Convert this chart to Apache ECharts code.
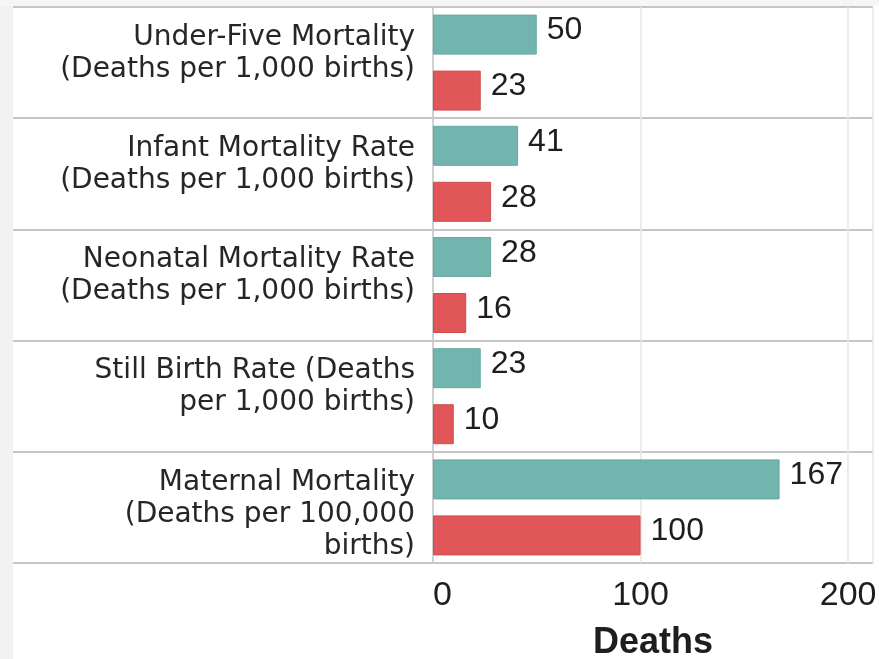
<!DOCTYPE html>
<html>
<head>
<meta charset="utf-8">
<script src="https://cdn.jsdelivr.net/npm/echarts@6/dist/echarts.min.js"></script>
<style>
  html, body { margin: 0; padding: 0; background: #ffffff; }
  #chart { width: 879px; height: 659px; }
</style>
</head>
<body>
<div id="chart"></div>
<script>
// ---- data ----
const categories = [
  'Under-Five Mortality\n(Deaths per 1,000 births)',
  'Infant Mortality Rate\n(Deaths per 1,000 births)',
  'Neonatal Mortality Rate\n(Deaths per 1,000 births)',
  'Still Birth Rate (Deaths\nper 1,000 births)',
  'Maternal Mortality\n(Deaths per 100,000\nbirths)'
];
const tealValues = [50, 41, 28, 23, 167];
const redValues = [23, 28, 16, 10, 100];
const xTickLabels = [0, 100, 200];
const axisTitle = 'Deaths';

// ---- chart ----
const chart = echarts.init(document.getElementById('chart'), null, { renderer: 'canvas' });

const valueLabel = {
  show: true,
  position: 'right',
  distance: 10,
  offset: [0, -4],
  fontFamily: 'Liberation Sans, Arial, sans-serif',
  fontSize: 32,
  color: '#1e1e1e'
};

const option = {
  backgroundColor: '#ffffff',
  animation: false,
  graphic: [
    { type: 'rect', left: 0, top: 0, shape: { width: 13, height: 659 }, style: { fill: '#f2f2f2' }, silent: true, z: -10 },
    { type: 'rect', left: 0, top: 0, shape: { width: 879, height: 6 }, style: { fill: '#f6f6f6' }, silent: true, z: -10 }
  ],
  grid: { left: 433, right: 6, top: 7, bottom: 96, containLabel: false, outerBoundsMode: 'none' },
  xAxis: {
    type: 'value',
    min: 0,
    max: 212,
    interval: 100,
    axisLine: { show: false },
    axisTick: { show: false },
    splitLine: { show: true, lineStyle: { color: '#e6e6e6', width: 1.5 } },
    axisLabel: {
      margin: 16,
      fontFamily: 'Liberation Sans, Arial, sans-serif',
      fontSize: 34,
      color: '#1e1e1e',
      showMaxLabel: false,
      alignMinLabel: 'left',
      formatter: function (v) { return xTickLabels.indexOf(v) >= 0 ? String(v) : ''; }
    },
    name: axisTitle,
    nameLocation: 'middle',
    nameGap: 62,
    nameTextStyle: {
      fontFamily: 'Liberation Sans, Arial, sans-serif',
      fontSize: 36,
      fontWeight: 'bold',
      color: '#1e1e1e'
    }
  },
  yAxis: {
    type: 'category',
    data: categories,
    inverse: true,
    axisLine: { show: true, lineStyle: { color: '#c8c8c8', width: 1.5 } },
    axisTick: { show: true, length: 420, lineStyle: { color: '#c6c6c6', width: 2 } },
    splitLine: { show: true, lineStyle: { color: '#c6c6c6', width: 2 } },
    axisLabel: {
      interval: 0,
      showMinLabel: true,
      showMaxLabel: true,
      hideOverlap: false,
      margin: 18,
      fontFamily: 'DejaVu Sans, sans-serif',
      fontSize: 28,
      lineHeight: 32,
      color: '#262626',
      rich: {
        pad: { fontSize: 2, lineHeight: 14 }
      },
      formatter: function (v) {
        const n = v.split('\n').length;
        return '{pad| }\n' + (n < 3 ? v + '\n ' : v);
      }
    }
  },
  series: [
    {
      name: 'Series 1',
      type: 'bar',
      data: tealValues,
      barWidth: 40,
      barGap: '40%',
      itemStyle: { color: '#72b5af', borderColor: '#66a9a3', borderWidth: 1 },
      label: valueLabel
    },
    {
      name: 'Series 2',
      type: 'bar',
      data: redValues,
      barWidth: 40,
      barGap: '40%',
      itemStyle: { color: '#e15759', borderColor: '#d24c4e', borderWidth: 1 },
      label: valueLabel
    }
  ]
};

chart.setOption(option);
</script>
</body>
</html>
